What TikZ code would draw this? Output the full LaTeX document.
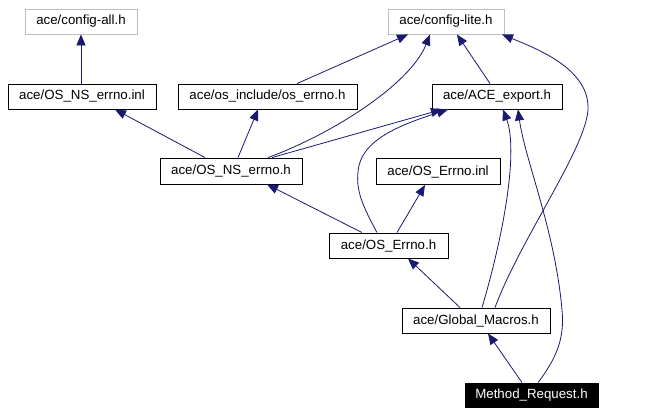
\documentclass[tikz,border=0pt]{standalone}
\usepackage{fontspec}
\setmainfont{Liberation Sans}
\usetikzlibrary{arrows.meta}
\definecolor{edgecol}{HTML}{191970}
\definecolor{graycol}{HTML}{BFBFBF}
\tikzset{
  filebox/.style={draw=black, line width=0.9pt, fill=white, inner sep=0pt, minimum height=25pt,
    font=\fontsize{13.3pt}{15pt}\selectfont},
  extbox/.style={filebox, draw=graycol},
  mainbox/.style={filebox, fill=black, text=white},
  edge/.style={draw=edgecol, line width=0.8pt, -{Triangle[length=11pt,width=9pt]}},
}
\begin{document}
\begin{tikzpicture}[x=1pt,y=-1pt]
\useasboundingbox (0,0) rectangle (658,415);
\node[extbox, minimum width=112pt] (configall) at (81,21.5) {ace/config-all.h};
\node[extbox, minimum width=116pt] (configlite) at (446,21.5) {ace/config-lite.h};
\node[filebox, minimum width=148pt] (nsinl) at (82,96.5) {ace/OS\_NS\_errno.inl};
\node[filebox, minimum width=179pt] (oserrno) at (267.5,96.5) {ace/os\_include/os\_errno.h};
\node[filebox, minimum width=130pt] (aceexp) at (497,96.5) {ace/ACE\_export.h};
\node[filebox, minimum width=142pt, minimum height=26pt] (nserrno) at (231,171) {ace/OS\_NS\_errno.h};
\node[filebox, minimum width=124pt, minimum height=26pt] (errinl) at (438,171.5) {ace/OS\_Errno.inl};
\node[filebox, minimum width=119pt] (errh) at (388.5,245.5) {ace/OS\_Errno.h};
\node[filebox, minimum width=148pt] (gm) at (476,320.5) {ace/Global\_Macros.h};
\node[mainbox, minimum width=133pt, minimum height=24pt] (mr) at (531.5,395) {Method\_Request.h};

\draw[edge] ([xshift=-1pt]nsinl.north) -- (configall.south);
\draw[edge] ([xshift=-26pt]nserrno.north) -- ([xshift=33pt]nsinl.south);
\draw[edge] ([xshift=7pt]nserrno.north) -- ([xshift=-9.5pt]oserrno.south);
\draw[edge] ([xshift=29.5pt]oserrno.north) -- ([xshift=-38pt]configlite.south);
\draw[edge] ([xshift=37pt]nserrno.north) .. controls (330,135) and (410,85) .. ([xshift=-16pt]configlite.south);
\draw[edge] ([xshift=41pt]nserrno.north) -- ([xshift=-55pt]aceexp.south);
\draw[edge] ([xshift=-26.5pt]errh.north) -- ([xshift=36pt]nserrno.south);
\draw[edge] ([xshift=-11.5pt]errh.north) .. controls (362,205) and (356,190) .. (358,172) .. controls (360,140) and (400,125) .. ([xshift=-49pt]aceexp.south);
\draw[edge] ([xshift=8.5pt]errh.north) -- ([xshift=-13pt]errinl.south);
\draw[edge] (aceexp.north) ++(-7pt,0) -- ([xshift=11pt]configlite.south);
\draw[edge] ([xshift=-16pt]gm.north) -- ([xshift=19.5pt]errh.south);
\draw[edge] ([xshift=6pt]gm.north) .. controls (505,230) and (518,150) .. ([xshift=6pt]aceexp.south);
\draw[edge] ([xshift=19pt]gm.north) .. controls (520,240) and (585,150) .. (588,110) .. controls (590,70) and (540,50) .. ([xshift=56pt]configlite.south);
\draw[edge] ([xshift=6.5pt]mr.north) .. controls (555,360) and (565,340) .. (562,310) .. controls (555,230) and (525,160) .. ([xshift=21pt]aceexp.south);
\draw[edge] ([xshift=-9.5pt]mr.north) -- ([xshift=12pt]gm.south);
\end{tikzpicture}
\end{document}
